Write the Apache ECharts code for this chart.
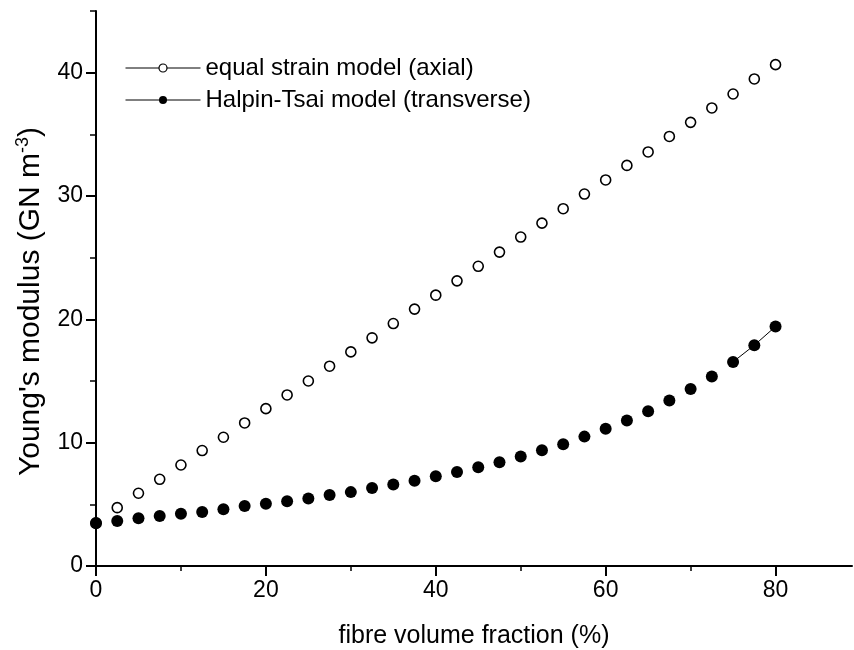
<!DOCTYPE html>
<html>
<head>
<meta charset="utf-8">
<script src="https://cdn.jsdelivr.net/npm/echarts@6/dist/echarts.min.js"></script>
<style>html,body{margin:0;padding:0;background:#fff;}#c{width:854px;height:650px;}</style>
</head>
<body>
<div id="c"></div>
<script>
// fibre volume fraction (%)
const fraction = [0, 2.5, 5, 7.5, 10, 12.5, 15, 17.5, 20, 22.5, 25, 27.5, 30, 32.5, 35, 37.5, 40,
  42.5, 45, 47.5, 50, 52.5, 55, 57.5, 60, 62.5, 65, 67.5, 70, 72.5, 75, 77.5, 80];
// Young's modulus, GN m^-3
const equalStrain = [3.5, 4.73, 5.90, 7.03, 8.19, 9.36, 10.44, 11.6, 12.76, 13.87, 15.0, 16.2, 17.36,
  18.5, 19.66, 20.83, 21.96, 23.12, 24.3, 25.45, 26.67, 27.8, 28.97, 30.16, 31.3, 32.48, 33.57,
  34.83, 35.97, 37.14, 38.27, 39.49, 40.65];
const halpinTsai = [3.46, 3.65, 3.87, 4.06, 4.24, 4.38, 4.6, 4.87, 5.05, 5.25, 5.47, 5.75, 5.99,
  6.32, 6.6, 6.92, 7.28, 7.63, 8.0, 8.41, 8.87, 9.39, 9.87, 10.49, 11.12, 11.79, 12.55, 13.41,
  14.36, 15.36, 16.55, 17.9, 19.42];
const xMajorTicks = [0, 20, 40, 60, 80];
const xMinorTicks = [10, 30, 50, 70];
const yMajorTicks = [0, 10, 20, 30, 40];
const yMinorTicks = [5, 15, 25, 35, 45];
const seriesNames = ['equal strain model (axial)', 'Halpin-Tsai model (transverse)'];

const pairs = (xs, ys) => xs.map((x, i) => [x, ys[i]]);
const FONT = 'Liberation Sans';
const TICKFONT = '"Liberation Sans Narrow", "Liberation Sans", sans-serif';
const chart = echarts.init(document.getElementById('c'), null, {renderer: 'canvas'});

const baseAxis = {
  min: 0, type: 'value', splitLine: {show: false},
  axisLine: {show: true, lineStyle: {color: '#000', width: 2}},
};

chart.setOption({
  backgroundColor: '#fff',
  animation: false,
  textStyle: {fontFamily: FONT, color: '#000'},
  grid: {left: 96, top: 11, width: 756, bottom: 84, containLabel: false, outerBoundsMode: 'none'},
  legend: {
    orient: 'vertical', left: 125, top: 56, padding: 0, itemWidth: 75, itemHeight: 10, itemGap: 8,
    textStyle: {fontFamily: FONT, fontSize: 24, color: '#000'},
    data: [
      {name: seriesNames[0], itemStyle: {color: '#fff', borderColor: '#000', borderWidth: 1.2}, lineStyle: {color: '#000', width: 1, opacity: 1}},
      {name: seriesNames[1], itemStyle: {color: '#000', borderWidth: 0}, lineStyle: {color: '#000', width: 1, opacity: 1}}
    ]
  },
  xAxis: [
    Object.assign({}, baseAxis, {
      max: 89,
      name: 'fibre volume fraction (%)', nameLocation: 'middle', nameGap: 58,
      nameTextStyle: {fontFamily: FONT, fontSize: 25, color: '#000'},
      axisTick: {show: true, length: 10, lineStyle: {color: '#000', width: 2}, customValues: xMajorTicks},
      axisLabel: {fontFamily: TICKFONT, fontSize: 23, color: '#000', margin: 13, customValues: xMajorTicks}
    }),
    Object.assign({}, baseAxis, {
      max: 89, position: 'bottom', axisLine: {show: false},
      axisTick: {show: true, length: 5, lineStyle: {color: '#000', width: 1.5}, customValues: xMinorTicks},
      axisLabel: {show: false}
    })
  ],
  yAxis: [
    Object.assign({}, baseAxis, {
      max: 45,
      name: "Young's modulus (GN m{sup|-3})", nameLocation: 'middle', nameGap: 48,
      nameTextStyle: {fontFamily: FONT, fontSize: 30, color: '#000', padding: [0, 26, 0, 0],
        rich: {sup: {fontFamily: FONT, fontSize: 18, color: '#000', verticalAlign: 'bottom', padding: [0, 0, 16, 0]}}},
      axisTick: {show: true, length: 10, lineStyle: {color: '#000', width: 2}, customValues: yMajorTicks},
      axisLabel: {fontFamily: TICKFONT, fontSize: 23, color: '#000', margin: 13, customValues: yMajorTicks}
    }),
    Object.assign({}, baseAxis, {
      max: 45, position: 'left', axisLine: {show: false},
      axisTick: {show: true, length: 6, lineStyle: {color: '#000', width: 1.5}, customValues: yMinorTicks},
      axisLabel: {show: false}
    })
  ],
  series: [
    {
      name: seriesNames[0], type: 'line', data: pairs(fraction, equalStrain),
      symbol: 'circle', symbolSize: 10, showAllSymbol: true,
      lineStyle: {width: 0, color: '#000'},
      itemStyle: {color: '#fff', borderColor: '#000', borderWidth: 1.6},
      z: 2
    },
    {
      name: 'link', type: 'line', data: pairs(fraction, halpinTsai).slice(-3),
      symbol: 'none', silent: true, lineStyle: {width: 1, color: '#000'}, z: 3
    },
    {
      name: seriesNames[1], type: 'line', data: pairs(fraction, halpinTsai),
      symbol: 'circle', symbolSize: 12, showAllSymbol: true,
      lineStyle: {width: 0, color: '#000'},
      itemStyle: {color: '#000', borderWidth: 0},
      z: 4
    }
  ]
});
</script>
</body>
</html>
